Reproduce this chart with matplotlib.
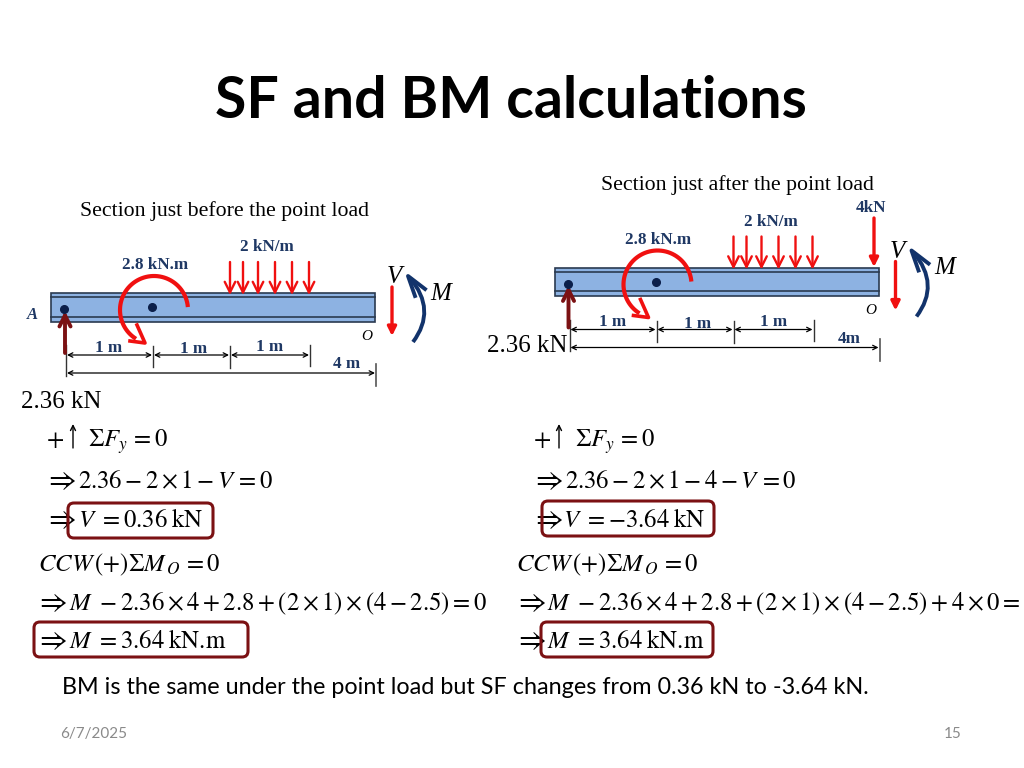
import numpy as np
import matplotlib
matplotlib.use("Agg")
import matplotlib.pyplot as plt
from matplotlib.patches import FancyBboxPatch, Rectangle, PathPatch
from matplotlib.path import Path

plt.rcParams["mathtext.fontset"] = "stix"
SERIF = "Liberation Serif"
NAVY = "#1f3864"
RED = "#f01010"
DARKRED = "#7b1113"

title = "SF and BM calculations"
note = "BM is the same under the point load but SF changes from 0.36 kN to -3.64 kN."
date = "6/7/2025"
page = "15"

# beam drawing, left one, right one is the same shifted
tick_x = [66, 153, 230, 310, 376]
udl_x = [230, 243, 258, 275, 292, 309]
span_labels = ["1 m", "1 m", "1 m"]
span_label_x = [109, 194, 270]
span_label_y = [348, 349, 347]

left_eqs = [
    r"$\Sigma F_y\,=0$",
    r"$2.36-2\times 1-V\,=0$",
    r"$V\ =0.36\;\mathrm{kN}$",
    r"$CCW\,(+)\Sigma M_{\,O}\,=0$",
    r"$M\ -2.36\times 4+2.8+(2\times 1)\times (4-2.5)=0$",
    r"$M\ =3.64\;\mathrm{kN.\!m}$",
]
right_eqs = [
    r"$\Sigma F_y\,=0$",
    r"$2.36-2\times 1-4-V\,=0$",
    r"$V\ =-3.64\;\mathrm{kN}$",
    r"$CCW\,(+)\Sigma M_{\,O}\,=0$",
    r"$M\ -2.36\times 4+2.8+(2\times 1)\times (4-2.5)+4\times 0=$",
    r"$M\ =3.64\;\mathrm{kN.\!m}$",
]
eq_base = [447, 488, 527, 571, 610, 648]
left_eq_x = [88, 78, 78, 38, 69, 69]
right_eq_x = [575, 565, 563, 516, 547, 547]
# where the implies sign of a line starts
left_imp_x = [None, 44, 44, None, 35, 35]
right_imp_x = [None, 531, 531, None, 514, 514]

fig = plt.figure(figsize=(10.24, 7.68), dpi=100)
ax = fig.add_axes([0, 0, 1, 1])
ax.set_xlim(0, 1024)
ax.set_ylim(768, 0)
ax.axis("off")


def arrow(x0, y0, x1, y1, color, lw, style="-|>", ms=14):
    ax.annotate("", xy=(x1, y1), xytext=(x0, y0),
                arrowprops=dict(arrowstyle=style, color=color, lw=lw, mutation_scale=ms,
                                shrinkA=0, shrinkB=0))


def label(x, y, s, size=12.3, color=NAVY, weight="bold", style="normal"):
    ax.text(x, y, s, family=SERIF, fontsize=size, color=color, fontweight=weight,
            fontstyle=style, ha="center", va="center")


def beam(dx, dy):
    ax.add_patch(Rectangle((51 + dx, 293 + dy), 324, 28.5, fc="#8db2e2", ec="#2a3a50", lw=1.2, zorder=1))
    ax.plot([51 + dx, 375 + dx], [297 + dy, 297 + dy], color="#2a3a50", lw=1.2, zorder=2)
    ax.plot([51 + dx, 375 + dx], [316.5 + dy, 316.5 + dy], color="#2a3a50", lw=1.2, zorder=2)
    ax.plot([64 + dx, 152 + dx], [309 + dy, 307 + dy], "o", color="#0b1f4a", ms=5.5, zorder=4)

    # distributed load
    for x in udl_x:
        arrow(x + dx, 262 + dy, x + dx, 295 + dy, RED, 1.7, style="->", ms=19)

    # applied moment
    t = np.radians(np.linspace(5, 238, 60))
    ax.plot(154 + dx + 34 * np.cos(t), 310 + dy - 34 * np.sin(t), color=RED, lw=3, zorder=5,
            solid_capstyle="butt")
    ax.plot([137 + dx, 145 + dx, 130 + dx], [325 + dy, 343 + dy, 341 + dy], color=RED, lw=2.6, zorder=5)

    # reaction
    arrow(65 + dx, 353 + dy, 65 + dx, 311 + dy, DARKRED, 2.8, style="->", ms=20)

    # dimensions
    for a, b in zip(tick_x[:-2], tick_x[1:-1]):
        arrow(a + 1 + dx, 355 + dy, b - 1 + dx, 355 + dy, "black", 0.9, style="<->", ms=8)
    arrow(67 + dx, 373 + dy, tick_x[-1] - 1 + dx, 373 + dy, "black", 0.9, style="<->", ms=8)
    ax.plot([66 + dx, 66 + dx], [345 + dy, 376 + dy], color="#333333", lw=1)
    ax.plot([153 + dx, 153 + dx], [346 + dy, 367 + dy], color="#333333", lw=1)
    ax.plot([230 + dx, 230 + dx], [346 + dy, 368 + dy], color="#333333", lw=1)
    ax.plot([310 + dx, 310 + dx], [345 + dy, 366 + dy], color="#333333", lw=1)
    ax.plot([376 + dx, 376 + dx], [364 + dy, 386 + dy], color="#555555", lw=1.2)
    for x, y, s in zip(span_label_x, span_label_y, span_labels):
        label(x + dx, y + dy, s)

    # section forces
    arrow(392 + dx, 287 + dy, 392 + dx, 336 + dy, RED, 2.4, ms=13)
    curve = Path([(413 + dx, 342 + dy), (437 + dx, 310 + dy), (410 + dx, 278 + dy)],
                 [Path.MOVETO, Path.CURVE3, Path.CURVE3])
    ax.add_patch(PathPatch(curve, fc="none", ec="#12336b", lw=2.8, zorder=5))
    ax.plot([425 + dx, 408 + dx, 415 + dx], [289 + dy, 276 + dy, 296 + dy], color="#12336b", lw=2.8, zorder=5)

    label(155 + dx, 265 + dy, "2.8 kN.m")
    label(267 + dx, 247 + dy, "2 kN/m")
    label(394 + dx, 277 + dy, "V", size=18, color="black", weight="normal", style="italic")
    label(441 + dx, 294 + dy, "M", size=18, color="black", weight="normal", style="italic")
    label(367 + dx, 336 + dy, "O", size=11, color="black", weight="normal", style="italic")


def equations(eq_x, imp_x, eqs, plus_x, up_x):
    for x, y, s in zip(eq_x, eq_base, eqs):
        ax.text(x, y, s, fontsize=17.8, ha="left", va="baseline", clip_on=True)
    for x, y in zip(imp_x, eq_base):
        if x is not None:
            ax.text(x, y + 1, r"$\Rightarrow$", fontsize=21.5, ha="left", va="baseline")
    ax.text(plus_x, eq_base[0], r"$+$", fontsize=18, ha="left", va="baseline")
    arrow(up_x, eq_base[0] + 1, up_x, 424, "black", 1.0, style="->", ms=9)


ax.text(511, 102, title, family="Lato", fontweight="bold", fontsize=41.2, color="black",
        ha="center", va="center")

beam(0, 0)
label(347, 364, "4 m")
label(32, 315, "A", size=12, style="italic")
label(61, 402, "2.36 kN", size=18, color="black", weight="normal")
ax.text(224, 211, "Section just before the point load", family=SERIF, fontsize=15.7,
        ha="center", va="center")

beam(503.5, -25.5)
label(849, 339, "4m")
label(871, 208, "4kN")
arrow(874, 218, 874, 267, RED, 2.4, ms=13)
label(527, 346, "2.36 kN", size=18, color="black", weight="normal")
ax.text(737, 185, "Section just after the point load", family=SERIF, fontsize=15.7,
        ha="center", va="center")

equations(left_eq_x, left_imp_x, left_eqs, 46, 73)
equations(right_eq_x, right_imp_x, right_eqs, 533, 559)

for x0, y0, x1, y1 in [(68, 503, 213, 538), (34, 622, 248, 657), (542, 501, 714, 536), (541, 622, 713, 657)]:
    ax.add_patch(FancyBboxPatch((x0 + 5, y0 + 5), x1 - x0 - 10, y1 - y0 - 10,
                                boxstyle="round,pad=5,rounding_size=6", fc="none", ec=DARKRED, lw=2.2,
                                zorder=6))

ax.text(62, 688, note, family="Lato", fontsize=16.85, color="black", ha="left", va="center")
ax.text(60, 734, date, family="Lato", fontsize=11, color="#8a8a8a", ha="left", va="center")
ax.text(953, 734, page, family="Lato", fontsize=11, color="#8a8a8a", ha="center", va="center")

fig.savefig("out.png", dpi=100)
